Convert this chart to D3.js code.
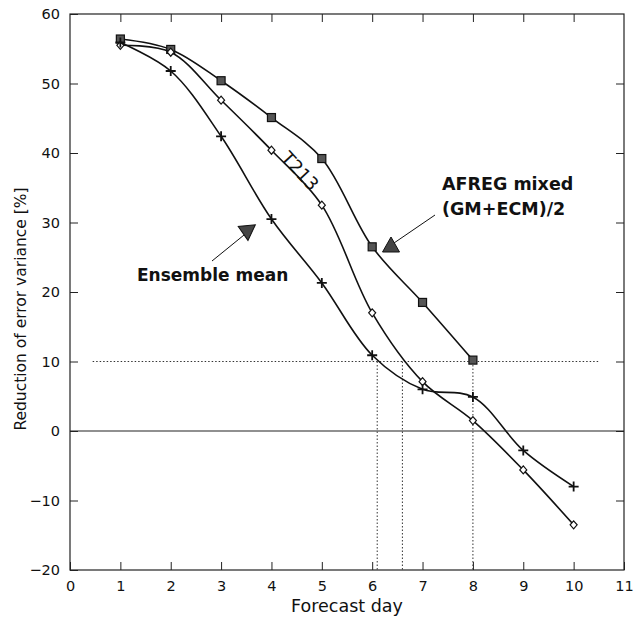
<!DOCTYPE html>
<html>
<head>
<meta charset="utf-8">
<script src="https://cdn.jsdelivr.net/npm/d3@7"></script>
<style>
  body { margin: 0; background: #fff; }
  svg { font-family: "DejaVu Sans", sans-serif; }
</style>
</head>
<body>
<div id="chart"></div>
<script>
const days = [1, 2, 3, 4, 5, 6, 7, 8, 9, 10];
const afreg = [56.4, 54.9, 50.4, 45.1, 39.2, 26.5, 18.5, 10.2];
const t213 = [55.5, 54.5, 47.6, 40.4, 32.5, 17.0, 7.1, 1.5, -5.6, -13.5];
const ensembleMean = [55.9, 51.8, 42.4, 30.5, 21.3, 10.9, 6.0, 4.9, -2.8, -8.0];
const xTicks = [0, 1, 2, 3, 4, 5, 6, 7, 8, 9, 10, 11];
const yTicks = [-20, -10, 0, 10, 20, 30, 40, 50, 60];
const refLevel = 10;
const refDays = [6.1, 6.6, 8.0];

const W = 635, H = 620;
const svg = d3.select("#chart").append("svg")
  .attr("width", W).attr("height", H);

const x = d3.scaleLinear().domain([0, 11]).range([70, 624]);
const y = d3.scaleLinear().domain([-20, 60]).range([570, 14]);

// frame
svg.append("rect")
  .attr("x", x(0)).attr("y", y(60))
  .attr("width", x(11) - x(0)).attr("height", y(-20) - y(60))
  .attr("fill", "none").attr("stroke", "#222").attr("stroke-width", 1.2);

// inward ticks, all four sides
const tickLen = 8;
svg.append("g").attr("transform", `translate(0,${y(-20)})`)
  .call(d3.axisBottom(x).tickValues(xTicks).tickSize(-tickLen).tickPadding(11).tickFormat(d3.format("d")))
  .call(g => g.select(".domain").remove())
  .call(g => g.selectAll("text").attr("font-size", 14.5).attr("fill", "#111"));
svg.append("g").attr("transform", `translate(0,${y(60)})`)
  .call(d3.axisTop(x).tickValues(xTicks.slice(1, -1)).tickSize(-tickLen).tickFormat(""))
  .call(g => g.select(".domain").remove());
svg.append("g").attr("transform", `translate(${x(0)},0)`)
  .call(d3.axisLeft(y).tickValues(yTicks).tickSize(-tickLen).tickPadding(10).tickFormat(d3.format("d")))
  .call(g => g.select(".domain").remove())
  .call(g => g.selectAll("text").attr("font-size", 14.5).attr("fill", "#111"));
svg.append("g").attr("transform", `translate(${x(11)},0)`)
  .call(d3.axisRight(y).tickValues(yTicks.slice(1, -1)).tickSize(-tickLen).tickFormat(""))
  .call(g => g.select(".domain").remove());
svg.selectAll(".tick line").attr("stroke", "#222");
svg.selectAll("g").attr("font-family", null);

// zero line
svg.append("line")
  .attr("x1", x(0)).attr("x2", x(11))
  .attr("y1", y(0)).attr("y2", y(0))
  .attr("stroke", "#222").attr("stroke-width", 1.2);

// dotted reference lines
svg.append("line")
  .attr("x1", x(0.45)).attr("x2", x(10.5))
  .attr("y1", y(refLevel)).attr("y2", y(refLevel))
  .attr("stroke", "#333").attr("stroke-dasharray", "1.5,2");
svg.selectAll(".vref").data(refDays).join("line")
  .attr("x1", d => x(d)).attr("x2", d => x(d))
  .attr("y1", y(refLevel)).attr("y2", y(-20))
  .attr("stroke", "#333").attr("stroke-dasharray", "1.5,2");

// curves
const line = d3.line().x(d => x(d[0])).y(d => y(d[1])).curve(d3.curveCatmullRom.alpha(0.5));
const series = [
  { name: "afreg", vals: afreg, marker: "square" },
  { name: "t213", vals: t213, marker: "diamond" },
  { name: "ens", vals: ensembleMean, marker: "plus" }
];
series.forEach(s => {
  const pts = s.vals.map((v, i) => [days[i], v]);
  svg.append("path").datum(pts)
    .attr("d", line).attr("fill", "none")
    .attr("stroke", "#111").attr("stroke-width", 1.6);
  const g = svg.append("g");
  if (s.marker === "square") {
    g.selectAll("rect").data(pts).join("rect")
      .attr("x", d => x(d[0]) - 4).attr("y", d => y(d[1]) - 4)
      .attr("width", 8).attr("height", 8)
      .attr("fill", "#555").attr("stroke", "#111").attr("stroke-width", 1.2);
  } else if (s.marker === "diamond") {
    g.selectAll("path").data(pts).join("path")
      .attr("transform", d => `translate(${x(d[0])},${y(d[1])})`)
      .attr("d", "M0,-4L3.5,0L0,4L-3.5,0Z")
      .attr("fill", "#fff").attr("stroke", "#111").attr("stroke-width", 1.2);
  } else {
    g.selectAll("path").data(pts).join("path")
      .attr("transform", d => `translate(${x(d[0])},${y(d[1])})`)
      .attr("d", "M-5,0H5M0,-5V5")
      .attr("stroke", "#111").attr("stroke-width", 1.8);
  }
});

// annotations
function pointer(cx, cy, rot) {
  svg.append("path")
    .attr("transform", `translate(${cx},${cy}) rotate(${rot})`)
    .attr("d", "M0,-9L8.5,6L-8.5,6Z")
    .attr("fill", "#444").attr("stroke", "#111").attr("stroke-width", 1);
}
svg.append("line").attr("x1", 435).attr("y1", 215).attr("x2", 394).attr("y2", 243)
  .attr("stroke", "#111").attr("stroke-width", 1);
pointer(391, 246, 0);
svg.append("text").attr("x", 442).attr("y", 190)
  .attr("font-size", 17.5).attr("font-weight", "bold").attr("fill", "#111").text("AFREG mixed");
svg.append("text").attr("x", 442).attr("y", 215)
  .attr("font-size", 17.5).attr("font-weight", "bold").attr("fill", "#111").text("(GM+ECM)/2");

svg.append("line").attr("x1", 212).attr("y1", 261).attr("x2", 244).attr("y2", 235)
  .attr("stroke", "#111").attr("stroke-width", 1);
pointer(248, 230, 55);
svg.append("text").attr("x", 137).attr("y", 281)
  .attr("font-size", 17).attr("font-weight", "bold").attr("fill", "#111").text("Ensemble mean");

svg.append("text")
  .attr("transform", "translate(299,172) rotate(47)")
  .attr("text-anchor", "middle").attr("dominant-baseline", "middle")
  .attr("font-size", 18).attr("fill", "#111").text("T213");

// axis titles
svg.append("text").attr("x", (x(0) + x(11)) / 2).attr("y", 612)
  .attr("text-anchor", "middle").attr("font-size", 17.5).attr("fill", "#111").text("Forecast day");
svg.append("text")
  .attr("transform", "translate(26,309) rotate(-90)")
  .attr("text-anchor", "middle").attr("font-size", 15.5).attr("fill", "#111")
  .text("Reduction of error variance [%]");
</script>
</body>
</html>
